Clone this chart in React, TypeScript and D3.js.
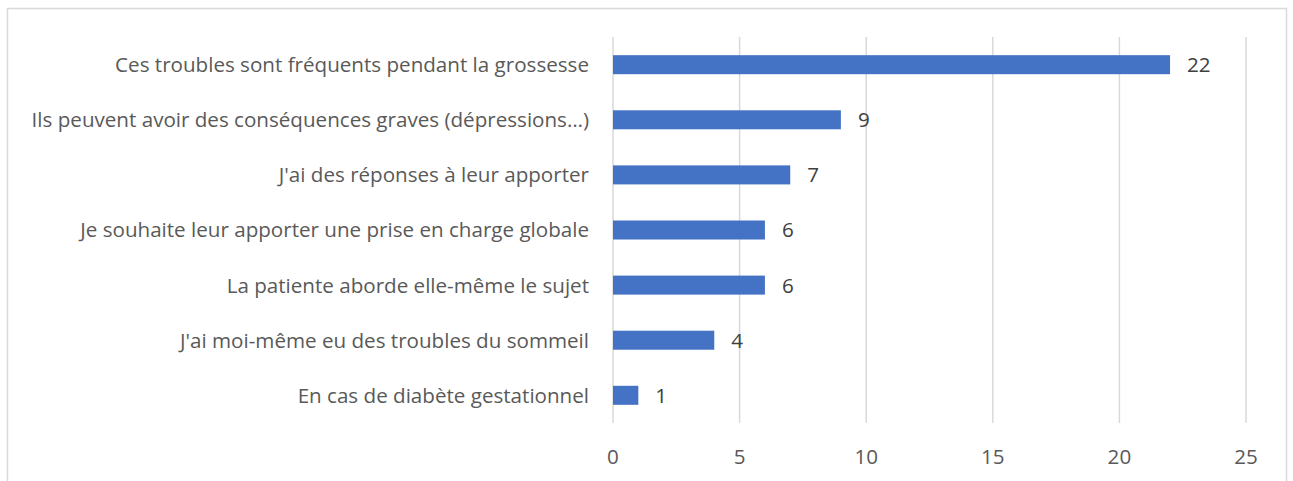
import { useEffect, useRef } from "react";
import * as d3 from "d3";

// reasons, top to bottom
const reasons = [
  "Ces troubles sont fréquents pendant la grossesse",
  "Ils peuvent avoir des conséquences graves (dépressions…)",
  "J'ai des réponses à leur apporter",
  "Je souhaite leur apporter une prise en charge globale",
  "La patiente aborde elle-même le sujet",
  "J'ai moi-même eu des troubles du sommeil",
  "En cas de diabète gestationnel",
];
const counts = [22, 9, 7, 6, 6, 4, 1];
const xTicks = [0, 5, 10, 15, 20, 25];

export default function App() {
  const svgRef = useRef<SVGSVGElement>(null);

  useEffect(() => {
    const width = 1293;
    const height = 481;
    const svg = d3.select(svgRef.current).attr("width", width).attr("height", height);
    svg.selectAll("*").remove();

    const font = "'Open Sans', sans-serif";
    const fontSize = 20.6;

    // chart border (bottom runs off the picture)
    svg
      .append("rect")
      .attr("x", 7.5)
      .attr("y", 8.5)
      .attr("width", 1279)
      .attr("height", 500)
      .attr("fill", "#fff")
      .attr("stroke", "#d9d9d9")
      .attr("stroke-width", 1.5);

    const xScale = d3.scaleLinear().domain([0, 25]).range([613, 1246]);
    const yScale = d3
      .scaleBand<string>()
      .domain(reasons)
      .range([37, 423])
      .paddingInner(0.655)
      .paddingOuter(0.33);

    // vertical grid
    svg
      .append("g")
      .selectAll("line")
      .data(xTicks)
      .join("line")
      .attr("x1", (d) => xScale(d))
      .attr("x2", (d) => xScale(d))
      .attr("y1", 37)
      .attr("y2", 423)
      .attr("stroke", "#d9d9d9")
      .attr("stroke-width", 1.5);

    // bars
    const rows = reasons.map((r, i) => ({ r, v: counts[i] }));
    svg
      .append("g")
      .selectAll("rect")
      .data(rows)
      .join("rect")
      .attr("x", xScale(0))
      .attr("y", (d) => yScale(d.r)!)
      .attr("width", (d) => xScale(d.v) - xScale(0))
      .attr("height", yScale.bandwidth())
      .attr("fill", "#4472c4");

    // value labels
    svg
      .append("g")
      .selectAll("text")
      .data(rows)
      .join("text")
      .attr("x", (d) => xScale(d.v) + 17)
      .attr("y", (d) => yScale(d.r)! + yScale.bandwidth() / 2)
      .attr("dy", "0.36em")
      .attr("font-family", font)
      .attr("font-size", fontSize)
      .attr("fill", "#404040")
      .text((d) => d.v);

    // category labels
    svg
      .append("g")
      .selectAll("text")
      .data(reasons)
      .join("text")
      .attr("x", 589)
      .attr("y", (d) => yScale(d)! + yScale.bandwidth() / 2)
      .attr("dy", "0.36em")
      .attr("text-anchor", "end")
      .attr("font-family", font)
      .attr("font-size", fontSize)
      .attr("fill", "#595959")
      .text((d) => d);

    // x tick labels
    svg
      .append("g")
      .selectAll("text")
      .data(xTicks)
      .join("text")
      .attr("x", (d) => xScale(d))
      .attr("y", 457)
      .attr("dy", "0.36em")
      .attr("text-anchor", "middle")
      .attr("font-family", font)
      .attr("font-size", fontSize)
      .attr("fill", "#595959")
      .text((d) => d);
  }, []);

  return (
    <svg
      ref={svgRef}
      style={{ position: "absolute", left: 0, top: 0, display: "block" }}
    ></svg>
  );
}
